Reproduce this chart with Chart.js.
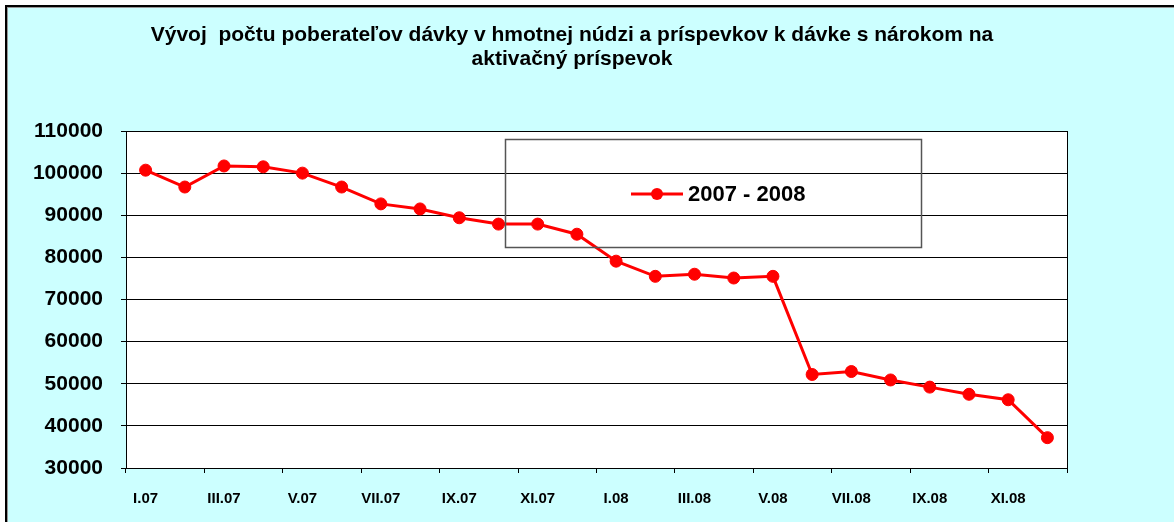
<!DOCTYPE html>
<html>
<head>
<meta charset="utf-8">
<script src="https://cdn.jsdelivr.net/npm/chart.js@4.4.0/dist/chart.umd.min.js"></script>
<style>
  html, body { margin: 0; padding: 0; background: #fff; }
  #wrap { width: 1174px; height: 522px; }
</style>
</head>
<body>
<div id="wrap"><canvas id="chart" width="1174" height="522"></canvas></div>
<script>
// mesiace I.07 - XII.08
const months = ['I.07', 'II.07', 'III.07', 'IV.07', 'V.07', 'VI.07', 'VII.07', 'VIII.07', 'IX.07', 'X.07', 'XI.07', 'XII.07',
                'I.08', 'II.08', 'III.08', 'IV.08', 'V.08', 'VI.08', 'VII.08', 'VIII.08', 'IX.08', 'X.08', 'XI.08', 'XII.08'];
// počet poberateľov
const counts = [100700, 96700, 101700, 101500, 100000, 96700, 92700, 91500, 89400, 87900, 87900, 85500,
                79100, 75500, 76000, 75100, 75500, 52200, 52900, 50900, 49200, 47500, 46200, 37200];
const seriesName = '2007 - 2008';
const titleLines = ['Vývoj  počtu poberateľov dávky v hmotnej núdzi a príspevkov k dávke s nárokom na',
                    'aktivačný príspevok'];
const yMin = 30000;
const yMax = 110000;
const yStep = 10000;

const FONT = '"Liberation Sans", Arial, sans-serif';
const RED = '#ff0000';

// pozadie, rám a biela plocha grafu
const backgroundPlugin = {
  id: 'pozadie',
  beforeDraw(chart) {
    const { ctx, chartArea: a } = chart;
    ctx.save();
    ctx.fillStyle = '#ccffff';
    ctx.fillRect(5, 5, chart.width, chart.height);
    ctx.fillStyle = '#ffffff';
    ctx.fillRect(a.left, a.top, a.right - a.left, a.bottom - a.top);
    ctx.fillStyle = '#000';
    ctx.fillRect(5, 5, chart.width, 2);
    ctx.fillRect(5, 5, 2, chart.height);
    ctx.fillStyle = '#999';
    ctx.fillRect(7, 7, chart.width, 1);
    ctx.fillRect(7, 7, 1, chart.height);
    ctx.restore();
  },
  beforeDatasetsDraw(chart) {
    // pravý okraj plochy
    const { ctx, chartArea: a } = chart;
    ctx.save();
    ctx.strokeStyle = '#000';
    ctx.lineWidth = 1;
    ctx.beginPath();
    ctx.moveTo(Math.round(a.right) + 0.5, a.top);
    ctx.lineTo(Math.round(a.right) + 0.5, a.bottom + 5);
    ctx.stroke();
    ctx.restore();
  }
};

// legenda v rámčeku vnútri plochy
const legendPlugin = {
  id: 'legendaBox',
  afterDatasetsDraw(chart) {
    const { ctx, chartArea: a } = chart;
    const ds = chart.data.datasets[0];
    const bx = a.left + 379, by = 139, bw = 416, bh = 108;
    ctx.save();
    ctx.strokeStyle = '#555';
    ctx.lineWidth = 1.5;
    ctx.strokeRect(bx + 0.5, by + 0.5, bw, bh);

    const cy = by + 55;
    const lx = bx + 126;
    ctx.strokeStyle = ds.borderColor;
    ctx.lineWidth = ds.borderWidth;
    ctx.beginPath();
    ctx.moveTo(lx, cy);
    ctx.lineTo(lx + 52, cy);
    ctx.stroke();
    ctx.fillStyle = ds.pointBackgroundColor;
    ctx.beginPath();
    ctx.arc(lx + 26, cy, ds.pointRadius, 0, Math.PI * 2);
    ctx.fill();

    ctx.fillStyle = '#000';
    ctx.font = 'bold 22px ' + FONT;
    ctx.textBaseline = 'middle';
    ctx.textAlign = 'left';
    ctx.fillText(ds.label, lx + 57, cy + 1);
    ctx.restore();
  }
};

new Chart(document.getElementById('chart'), {
  type: 'line',
  data: {
    labels: months,
    datasets: [{
      label: seriesName,
      data: counts,
      borderColor: RED,
      backgroundColor: RED,
      borderWidth: 3,
      pointRadius: 6,
      pointBackgroundColor: RED,
      pointBorderColor: RED,
      pointBorderWidth: 1,
      tension: 0,
      fill: false
    }]
  },
  options: {
    responsive: false,
    animation: false,
    layout: { padding: { left: 7, right: 37, top: 5, bottom: 0 } },
    plugins: {
      legend: { display: false },
      tooltip: { enabled: false },
      title: {
        display: true,
        text: titleLines,
        color: '#000',
        font: { family: FONT, size: 21, weight: 'bold', lineHeight: 24 / 21 },
        padding: { top: 18, bottom: 60 }
      }
    },
    scales: {
      x: {
        type: 'category',
        offset: true,
        grid: {
          offset: true,
          drawOnChartArea: false,
          drawTicks: true,
          tickLength: 5,
          // značka len pri každom druhom mesiaci
          color: ctx => (ctx.type === 'tick' && ctx.index % 2 === 1) ? 'rgba(0,0,0,0)' : '#000'
        },
        border: { display: true, color: '#000', width: 1 },
        ticks: {
          autoSkip: false,
          maxRotation: 0,
          color: '#000',
          padding: 17,
          font: { family: FONT, size: 15, weight: 'bold' },
          callback: (v, i) => i % 2 === 0 ? months[i] : ''
        },
        afterFit: s => { s.height = 54; }
      },
      y: {
        min: yMin,
        max: yMax,
        grid: { color: '#000', lineWidth: 1, tickLength: 5 },
        border: { display: true, color: '#000', width: 1 },
        ticks: {
          stepSize: yStep,
          color: '#000',
          padding: 18,
          font: { family: FONT, size: 21, weight: 'bold' },
          callback: v => String(v)
        },
        afterFit: s => { s.width = 119; }
      },
      yPravy: {
        position: 'right',
        display: true,
        grid: { display: false },
        border: { display: false },
        ticks: { display: false },
        afterFit: s => { s.width = 70; }
      }
    }
  },
  plugins: [backgroundPlugin, legendPlugin]
});
</script>
</body>
</html>
